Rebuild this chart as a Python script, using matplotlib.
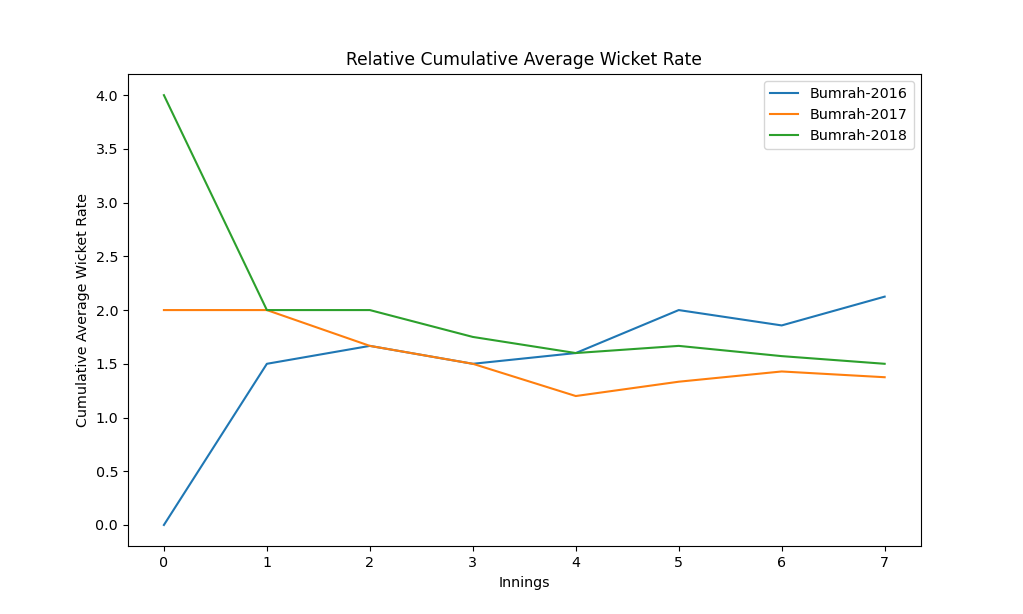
import matplotlib
matplotlib.use("Agg")
import matplotlib.pyplot as plt

innings = [0, 1, 2, 3, 4, 5, 6, 7]
bumrah_2016 = [0.0, 1.5, 1.6667, 1.5, 1.6, 2.0, 1.8571, 2.125]
bumrah_2017 = [2.0, 2.0, 1.6667, 1.5, 1.2, 1.3333, 1.4286, 1.375]
bumrah_2018 = [4.0, 2.0, 2.0, 1.75, 1.6, 1.6667, 1.5714, 1.5]

plt.rcParams['font.size'] = 10.3
fig, ax = plt.subplots(figsize=(10.23, 6.14), dpi=100)
ax.plot(innings, bumrah_2016, label="Bumrah-2016")
ax.plot(innings, bumrah_2017, label="Bumrah-2017")
ax.plot(innings, bumrah_2018, label="Bumrah-2018")
ax.set_title("Relative Cumulative Average Wicket Rate")
ax.set_xlabel("Innings")
ax.set_ylabel("Cumulative Average Wicket Rate")
ax.legend(loc="upper right")
fig.savefig("out.png", dpi=100)
